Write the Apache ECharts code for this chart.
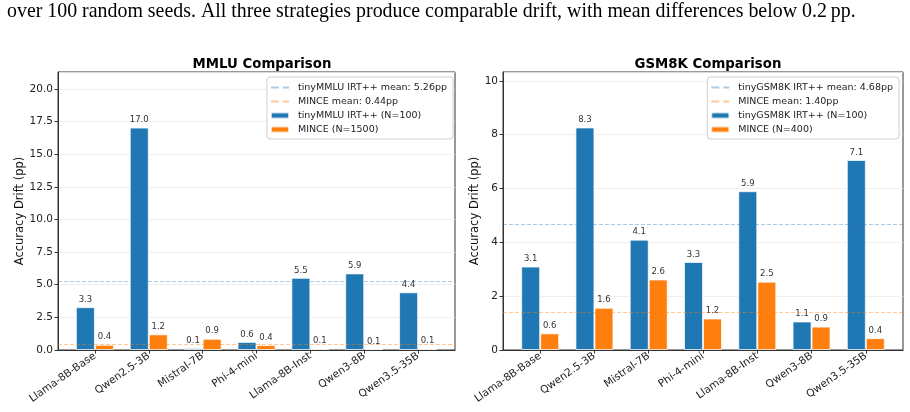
<!DOCTYPE html>
<html>
<head>
<meta charset="utf-8">
<script src="https://cdn.jsdelivr.net/npm/echarts@6/dist/echarts.min.js"></script>
<style>
  html, body { margin: 0; padding: 0; background: #fff; }
  #chart { width: 910px; height: 412px; }
</style>
</head>
<body>
<div id="chart"></div>
<script>
var models = ['Llama-8B-Base', 'Qwen2.5-3B', 'Mistral-7B', 'Phi-4-mini', 'Llama-8B-Inst', 'Qwen3-8B', 'Qwen3.5-35B'];

var mmluTiny = [3.28, 17.04, 0.14, 0.62, 5.53, 5.87, 4.42];
var mmluMince = [0.40, 1.20, 0.86, 0.38, 0.10, 0.08, 0.10];
var mmluTinyMean = 5.26;
var mmluMinceMean = 0.44;

var gsmTiny = [3.10, 8.27, 4.10, 3.27, 5.90, 1.06, 7.06];
var gsmMince = [0.62, 1.57, 2.62, 1.17, 2.54, 0.87, 0.44];
var gsmTinyMean = 4.68;
var gsmMinceMean = 1.40;

var yTicks1 = { max: 21.3, interval: 2.5 };
var yTicks2 = { max: 10.33, interval: 2 };

var BLUE = '#1f77b4', ORANGE = '#ff7f0e';
var FONT = 'DejaVu Sans';

function pts(arr) {
    return arr.map(function (v, i) { return [i, v]; });
}

var dom = document.getElementById('chart');
var myChart = echarts.init(dom);

function xAxisFor(gi) {
    return {
        type: 'value', gridIndex: gi, min: -0.685, max: 6.685,
        splitLine: { show: false },
        axisLine: { show: true, onZero: false, lineStyle: { color: '#333' } },
        axisTick: { show: true, customValues: [0, 1, 2, 3, 4, 5, 6], length: 3.5, lineStyle: { color: '#333' } },
        axisLabel: {
            customValues: [0, 1, 2, 3, 4, 5, 6],
            rotate: 35, fontSize: 10.5, color: '#222', fontFamily: FONT, margin: 5,
            formatter: function (v) { return models[v]; }
        }
    };
}

function yAxisFor(gi, ticks, dec, gap) {
    return {
        type: 'value', gridIndex: gi, min: 0, max: ticks.max, interval: ticks.interval,
        name: 'Accuracy Drift (pp)', nameLocation: 'middle', nameGap: gap,
        nameTextStyle: { fontSize: 11.5, color: '#111', fontFamily: FONT },
        axisLine: { show: true, onZero: false, lineStyle: { color: '#333' } },
        axisTick: { show: true, length: 3.5, lineStyle: { color: '#333' } },
        axisLabel: { fontSize: 10.5, color: '#222', fontFamily: FONT, margin: 5, showMaxLabel: false,
            formatter: function (v) { return v.toFixed(dec); } },
        splitLine: { show: true, lineStyle: { color: '#ebebeb', width: 0.8 } }
    };
}

function barSeries(name, data, color, gi) {
    return {
        name: name, type: 'bar', xAxisIndex: gi, yAxisIndex: gi,
        data: pts(data), barWidth: 19, barGap: '0%',
        itemStyle: { color: color, borderColor: 'rgba(255,255,255,0.7)', borderWidth: 1 },
        label: { show: true, position: 'top', distance: 3, fontSize: 8.5, color: '#333', fontFamily: FONT,
            formatter: function (p) { return p.value[1].toFixed(1); } }
    };
}

function meanSeries(name, value, color, gi) {
    return {
        name: name, type: 'line', xAxisIndex: gi, yAxisIndex: gi, data: [],
        symbol: 'none',
        lineStyle: { color: color, type: 'dashed', width: 1 },
        itemStyle: { color: color },
        markLine: {
            silent: true, symbol: 'none', label: { show: false },
            lineStyle: { color: color, type: 'dashed', width: 1 },
            data: [{ yAxis: value }]
        }
    };
}

function legendFor(names, right) {
    return {
        orient: 'vertical', right: right, top: 77,
        data: [
            { name: names[0], itemStyle: { opacity: 0 } },
            { name: names[1], itemStyle: { opacity: 0 } },
            names[2], names[3]
        ],
        itemWidth: 18, itemHeight: 6, itemGap: 3,
        padding: [5, 6, 4, 3],
        borderColor: '#d0d0d0', borderWidth: 1, borderRadius: 3,
        backgroundColor: 'rgba(255,255,255,0.85)',
        textStyle: { fontSize: 9.5, lineHeight: 11, color: '#222', fontFamily: FONT, padding: [0, 0, 0, 4] }
    };
}

var blueMean = 'rgba(31,119,180,0.38)';
var orangeMean = 'rgba(255,127,14,0.42)';

option = {
    animation: false,
    backgroundColor: '#fff',
    title: [
        { text: 'MMLU Comparison', left: 257, top: 53, textAlign: 'center',
          textStyle: { fontSize: 13.3, fontWeight: 'bold', color: '#000', fontFamily: FONT } },
        { text: 'GSM8K Comparison', left: 703, top: 53, textAlign: 'center',
          textStyle: { fontSize: 13.3, fontWeight: 'bold', color: '#000', fontFamily: FONT } }
    ],
    graphic: [{
        type: 'text', left: 7, top: 2,
        style: { text: 'over 100 random seeds. All three strategies produce comparable drift, with mean differences below 0.2\u2009pp.',
            fontSize: 19.9, fontFamily: 'Liberation Serif', fill: '#000' }
    }],
    grid: [
        { left: 58, top: 72, width: 397, height: 278, show: true, borderColor: '#333', borderWidth: 1 },
        { left: 503, top: 72, width: 400, height: 278, show: true, borderColor: '#333', borderWidth: 1 }
    ],
    legend: [
        legendFor(['tinyMMLU IRT++ mean: 5.26pp', 'MINCE mean: 0.44pp', 'tinyMMLU IRT++ (N=100)', 'MINCE (N=1500)'], 457),
        legendFor(['tinyGSM8K IRT++ mean: 4.68pp', 'MINCE mean: 1.40pp', 'tinyGSM8K IRT++ (N=100)', 'MINCE (N=400)'], 11)
    ],
    xAxis: [xAxisFor(0), xAxisFor(1)],
    yAxis: [yAxisFor(0, yTicks1, 1, 31), yAxisFor(1, yTicks2, 0, 18)],
    series: [
        meanSeries('tinyMMLU IRT++ mean: 5.26pp', mmluTinyMean, blueMean, 0),
        meanSeries('MINCE mean: 0.44pp', mmluMinceMean, orangeMean, 0),
        barSeries('tinyMMLU IRT++ (N=100)', mmluTiny, BLUE, 0),
        barSeries('MINCE (N=1500)', mmluMince, ORANGE, 0),
        meanSeries('tinyGSM8K IRT++ mean: 4.68pp', gsmTinyMean, blueMean, 1),
        meanSeries('MINCE mean: 1.40pp', gsmMinceMean, orangeMean, 1),
        barSeries('tinyGSM8K IRT++ (N=100)', gsmTiny, BLUE, 1),
        barSeries('MINCE (N=400)', gsmMince, ORANGE, 1)
    ]
};
if (option && typeof option === "object") {
    myChart.setOption(option, true);
}
</script>
</body>
</html>
